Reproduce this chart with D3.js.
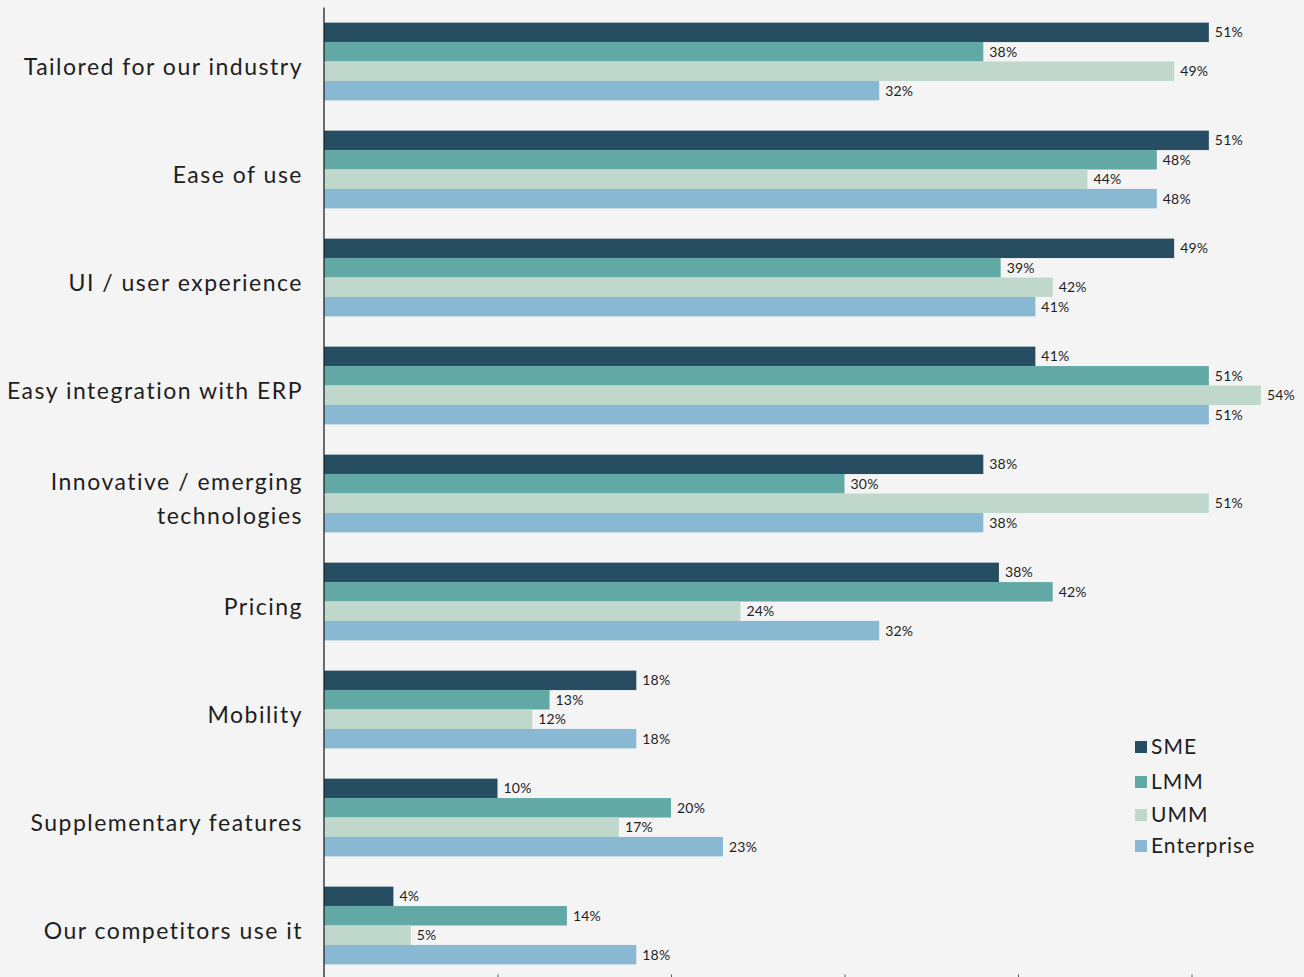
<!DOCTYPE html>
<html>
<head>
<meta charset="utf-8">
<script src="https://cdn.jsdelivr.net/npm/d3@7"></script>
<style>
  html, body { margin: 0; padding: 0; background: #f4f4f4; overflow: hidden; }
  text { font-family: Lato, "Open Sans", sans-serif; fill: #1e1e1e; }
</style>
</head>
<body>
<svg id="chart" width="1304" height="977"></svg>
<script>
// categories, top to bottom (label lines)
const categories = [
  ["Tailored for our industry"],
  ["Ease of use"],
  ["UI / user experience"],
  ["Easy integration with ERP"],
  ["Innovative / emerging", "technologies"],
  ["Pricing"],
  ["Mobility"],
  ["Supplementary features"],
  ["Our competitors use it"]
];
const seriesNames = ["SME", "LMM", "UMM", "Enterprise"];
const seriesColors = ["#264d61", "#62a8a4", "#bfd8cb", "#89b8d3"];

// percent values per series, in category order
const sme        = [51, 51, 49, 41, 38, 38.9, 18, 10, 4];
const lmm        = [38, 48, 39, 51, 30, 42, 13, 20, 14];
const umm        = [49, 44, 42, 54, 51, 24, 12, 17, 5];
const enterprise = [32, 48, 41, 51, 38, 32, 18, 23, 18];
const xTicks = [0, 10, 20, 30, 40, 50];

const seriesValues = [sme, lmm, umm, enterprise];

const svg = d3.select("#chart");
const margin = {top: 7.5, left: 324, right: 0, bottom: 0};

const x = d3.scaleLinear().domain([0, 10]).range([0, 173.5]);
const y = d3.scaleBand()
  .domain(d3.range(categories.length))
  .range([0, 972])
  .paddingInner(0.28)
  .paddingOuter(0.14);
const ySub = d3.scaleBand()
  .domain(d3.range(seriesNames.length))
  .range([0, y.bandwidth()]);

const g = svg.append("g")
  .attr("transform", `translate(${margin.left},${margin.top})`);

// bars
const groups = g.selectAll("g.cat")
  .data(categories.map((c, i) => i))
  .enter().append("g")
  .attr("class", "cat")
  .attr("transform", i => `translate(0,${y(i)})`);

groups.each(function(ci) {
  const gg = d3.select(this);
  const rows = seriesValues.map((vals, si) => ({si: si, v: vals[ci]}));
  gg.selectAll("rect")
    .data(rows)
    .enter().append("rect")
    .attr("x", 0)
    .attr("y", d => ySub(d.si))
    .attr("width", d => x(d.v))
    .attr("height", ySub.bandwidth())
    .attr("fill", d => seriesColors[d.si]);
  gg.selectAll("text.val")
    .data(rows)
    .enter().append("text")
    .attr("class", "val")
    .attr("x", d => x(d.v) + 6)
    .attr("y", d => ySub(d.si) + ySub.bandwidth() / 2)
    .attr("dy", "0.35em")
    .style("font-size", "14px")
    .style("letter-spacing", "0.2px")
    .text(d => Math.floor(d.v) + "%");
});

// category labels
g.selectAll("text.cat")
  .data(categories)
  .enter().append("text")
  .attr("class", "cat")
  .attr("text-anchor", "end")
  .style("font-size", "23px")
  .style("letter-spacing", "1.5px")
  .each(function(lines, i) {
    const t = d3.select(this);
    const cy = y(i) + y.bandwidth() / 2 + 5;
    lines.forEach((ln, k) => {
      t.append("tspan")
        .attr("x", -21)
        .attr("y", cy + (k - (lines.length - 1) / 2) * 34)
        .attr("dy", "0.35em")
        .text(ln);
    });
  });

// vertical axis line
g.append("line")
  .attr("x1", 0).attr("x2", 0)
  .attr("y1", 0).attr("y2", 980)
  .attr("stroke", "#222")
  .attr("stroke-width", 1.3);

// x axis ticks (no labels visible)
const xAxis = g.append("g")
  .attr("transform", "translate(0,967)")
  .call(d3.axisBottom(x).tickValues(xTicks).tickSize(6).tickFormat(""));
xAxis.select(".domain").remove();
xAxis.selectAll("line").attr("stroke", "#555");

// legend
const legend = svg.append("g").attr("transform", "translate(1135,0)");
const legendY = [747, 782, 815, 846];
seriesNames.forEach((name, i) => {
  legend.append("rect")
    .attr("x", 0).attr("y", legendY[i] - 6)
    .attr("width", 12).attr("height", 12)
    .attr("fill", seriesColors[i]);
  legend.append("text")
    .attr("x", 16).attr("y", legendY[i])
    .attr("dy", "0.35em")
    .style("font-size", "21px")
    .style("letter-spacing", "1px")
    .text(name);
});
</script>
</body>
</html>
